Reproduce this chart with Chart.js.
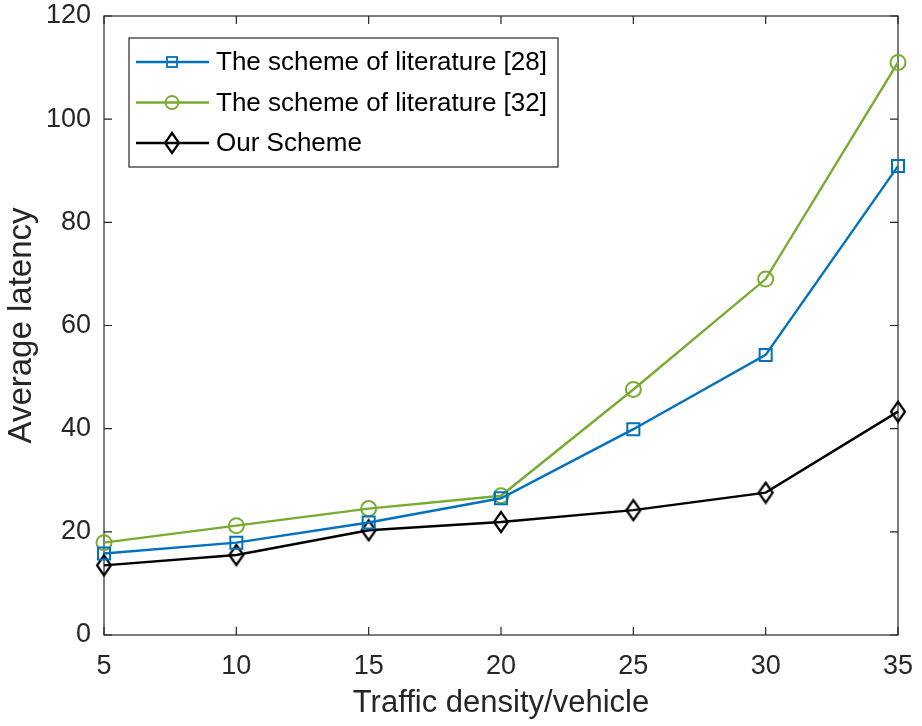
<!DOCTYPE html>
<html>
<head>
<meta charset="utf-8">
<script src="https://cdn.jsdelivr.net/npm/chart.js@4"></script>
<style>
  html, body { margin: 0; padding: 0; background: #fff; }
  #wrap { width: 922px; height: 726px; }
</style>
</head>
<body>
<div id="wrap"><canvas id="grafico"></canvas></div>
<script>
// Densidade de tráfego (veículos) e latência média de cada esquema
const densidade = [5, 10, 15, 20, 25, 30, 35];
const latenciaLit28 = [15.8, 17.9, 21.8, 26.5, 39.9, 54.3, 90.9];
const latenciaLit32 = [17.9, 21.2, 24.5, 27.0, 47.6, 69.0, 111.0];
const latenciaNosso = [13.5, 15.5, 20.3, 21.9, 24.2, 27.6, 43.3];
const nomesSeries = ['The scheme of literature [28]', 'The scheme of literature [32]', 'Our Scheme'];
const ticksY = [0, 20, 40, 60, 80, 100, 120];

const fonte = '"Liberation Sans", Arial, sans-serif';
const corEixo = '#262626';

// Losango mais alto que largo, como o marcador do MATLAB
function criarLosango() {
    const c = document.createElement('canvas');
    c.width = 18; c.height = 24;
    const ctx = c.getContext('2d');
    ctx.strokeStyle = '#000';
    ctx.lineWidth = 2.2;
    ctx.beginPath();
    ctx.moveTo(9, 2); ctx.lineTo(16, 12); ctx.lineTo(9, 22); ctx.lineTo(2, 12);
    ctx.closePath();
    ctx.stroke();
    return c;
}
const losango = criarLosango();

function pontos(valores) {
    return densidade.map((x, i) => ({ x: x, y: valores[i] }));
}

// Caixa dos eixos com marcas de escala para dentro
const caixaEixos = {
    id: 'caixaEixos',
    beforeDatasetsDraw(chart) {
        const { ctx, chartArea: a, scales } = chart;
        ctx.save();
        ctx.strokeStyle = corEixo;
        ctx.lineWidth = 1.2;
        ctx.strokeRect(a.left, a.top, a.right - a.left, a.bottom - a.top);
        ctx.beginPath();
        const tam = 8;
        densidade.forEach(v => {
            const px = scales.x.getPixelForValue(v);
            ctx.moveTo(px, a.bottom); ctx.lineTo(px, a.bottom - tam);
            ctx.moveTo(px, a.top); ctx.lineTo(px, a.top + tam);
        });
        ticksY.forEach(v => {
            const py = scales.y.getPixelForValue(v);
            ctx.moveTo(a.left, py); ctx.lineTo(a.left + tam, py);
            ctx.moveTo(a.right, py); ctx.lineTo(a.right - tam, py);
        });
        ctx.stroke();
        ctx.restore();
    }
};

// Legenda dentro do gráfico, com linha e marcador
const legendaInterna = {
    id: 'legendaInterna',
    afterDatasetsDraw(chart) {
        const { ctx, chartArea: a } = chart;
        const x0 = a.left + 25, y0 = 38, w = 429, h = 129;
        ctx.save();
        ctx.fillStyle = '#fff';
        ctx.fillRect(x0, y0, w, h);
        ctx.strokeStyle = corEixo;
        ctx.lineWidth = 1.2;
        ctx.strokeRect(x0, y0, w, h);
        ctx.font = '26px ' + fonte;
        ctx.textBaseline = 'middle';
        chart.data.datasets.forEach((ds, i) => {
            const yy = y0 + 24 + i * 40.5;
            ctx.strokeStyle = ds.borderColor;
            ctx.lineWidth = ds.borderWidth;
            ctx.beginPath();
            ctx.moveTo(x0 + 7, yy); ctx.lineTo(x0 + 80, yy);
            ctx.stroke();
            const mx = x0 + 43;
            if (ds.pointStyle === 'rect') {
                ctx.lineWidth = 1.8;
                ctx.strokeRect(mx - 5, yy - 5, 10, 10);
            } else if (ds.pointStyle === 'circle') {
                ctx.lineWidth = 1.8;
                ctx.beginPath();
                ctx.arc(mx, yy, 6.5, 0, Math.PI * 2);
                ctx.stroke();
            } else {
                ctx.drawImage(losango, mx - 9, yy - 12);
            }
            ctx.fillStyle = '#000';
            ctx.fillText(nomesSeries[i], x0 + 87, yy + 1);
        });
        ctx.restore();
    }
};

const ctxGrafico = document.getElementById('grafico').getContext('2d');
const grafico = new Chart(ctxGrafico, {
    type: 'line',
    data: {
        datasets: [
            {
                label: nomesSeries[0],
                data: pontos(latenciaLit28),
                borderColor: '#0072BD',
                backgroundColor: 'rgba(0,0,0,0)',
                borderWidth: 2.4,
                pointStyle: 'rect',
                pointRadius: 8.5,
                pointBorderWidth: 2,
                pointBackgroundColor: 'rgba(0,0,0,0)',
                clip: false
            },
            {
                label: nomesSeries[1],
                data: pontos(latenciaLit32),
                borderColor: '#77AC30',
                backgroundColor: 'rgba(0,0,0,0)',
                borderWidth: 2.4,
                pointStyle: 'circle',
                pointRadius: 7.5,
                pointBorderWidth: 2,
                pointBackgroundColor: 'rgba(0,0,0,0)',
                clip: false
            },
            {
                label: nomesSeries[2],
                data: pontos(latenciaNosso),
                borderColor: '#000000',
                backgroundColor: 'rgba(0,0,0,0)',
                borderWidth: 2.4,
                pointStyle: losango,
                pointRadius: 9,
                clip: false
            }
        ]
    },
    options: {
        responsive: true,
        maintainAspectRatio: false,
        animation: false,
        layout: { padding: { top: 16, right: 24, left: 0, bottom: 0 } },
        plugins: {
            legend: { display: false },
            tooltip: { enabled: false }
        },
        scales: {
            x: {
                type: 'linear',
                min: 5,
                max: 35,
                afterFit: s => { s.height = 91; s.paddingLeft = 0; s.paddingRight = 0; },
                afterBuildTicks: s => { s.ticks = densidade.map(v => ({ value: v })); },
                ticks: { font: { family: fonte, size: 27 }, color: corEixo, padding: 15, maxRotation: 0 },
                grid: { display: false, drawTicks: false },
                border: { display: false },
                title: {
                    display: true,
                    text: 'Traffic density/vehicle',
                    font: { family: fonte, size: 31 },
                    color: corEixo,
                    padding: { top: 4, bottom: 4 }
                }
            },
            y: {
                min: 0,
                max: 120,
                afterFit: s => { s.width = 104; s.paddingTop = 0; s.paddingBottom = 0; },
                afterBuildTicks: s => { s.ticks = ticksY.map(v => ({ value: v })); },
                ticks: { font: { family: fonte, size: 27 }, color: corEixo, padding: 13 },
                grid: { display: false, drawTicks: false },
                border: { display: false },
                title: {
                    display: true,
                    text: 'Average latency',
                    font: { family: fonte, size: 33 },
                    color: corEixo,
                    padding: { top: 2, bottom: 0 }
                }
            }
        }
    },
    plugins: [caixaEixos, legendaInterna]
});
</script>
</body>
</html>
